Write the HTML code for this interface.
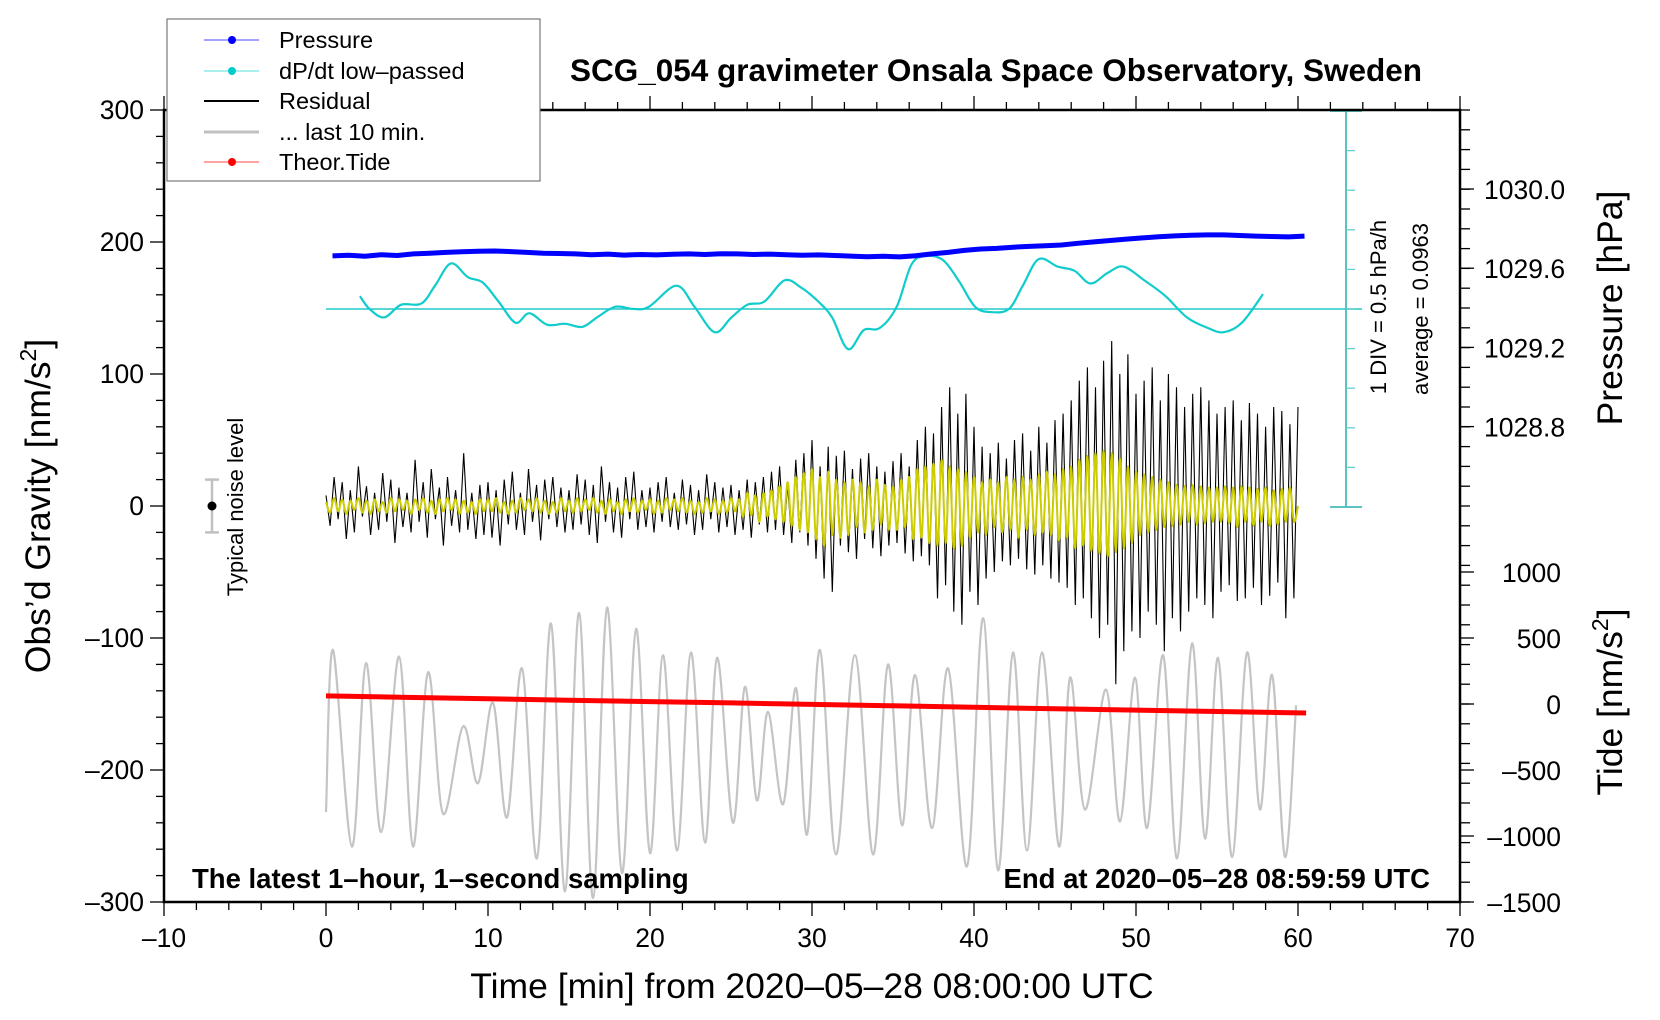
<!DOCTYPE html>
<html><head><meta charset="utf-8"><title>SCG_054 gravimeter</title>
<style>
html,body{margin:0;padding:0;background:#fff;}
svg{display:block;font-family:"Liberation Sans",Arial,sans-serif;}
</style></head>
<body>
<svg id="chart" width="1660" height="1020" viewBox="0 0 1660 1020" xmlns="http://www.w3.org/2000/svg">
<rect x="0" y="0" width="1660" height="1020" fill="#fff"/>
<g id="plot"></g>
<g id="axes"></g>
<text x="996" y="81" text-anchor="middle" font-size="31.5" font-weight="bold">SCG_054 gravimeter Onsala Space Observatory, Sweden</text>
<text x="192" y="888" font-size="27.5" font-weight="bold">The latest 1–hour, 1–second sampling</text>
<text x="1430" y="888" text-anchor="end" font-size="27.5" font-weight="bold">End at 2020–05–28 08:59:59 UTC</text>
<text x="812" y="998" text-anchor="middle" font-size="35.5">Time [min] from 2020–05–28 08:00:00 UTC</text>
<text transform="translate(50,506) rotate(-90)" text-anchor="middle" font-size="35.5">Obs’d Gravity [nm/s<tspan font-size="23" dy="-14">2</tspan><tspan dy="14">]</tspan></text>
<text transform="translate(1622,308) rotate(-90)" text-anchor="middle" font-size="35.5">Pressure [hPa]</text>
<text transform="translate(1622,702) rotate(-90)" text-anchor="middle" font-size="35.5">Tide [nm/s<tspan font-size="23" dy="-14">2</tspan><tspan dy="14">]</tspan></text>
<text transform="translate(243,507) rotate(-90)" text-anchor="middle" font-size="22">Typical noise level</text>
<text transform="translate(1386,307) rotate(-90)" text-anchor="middle" font-size="22">1 DIV = 0.5 hPa/h</text>
<text transform="translate(1428,309) rotate(-90)" text-anchor="middle" font-size="22">average = 0.0963</text>
<g id="legend">
<rect x="167" y="19" width="373" height="162" fill="#fff" stroke="#777" stroke-width="1.2"/>
<g><line x1="204" y1="40" x2="259" y2="40" stroke="#4444ff" stroke-width="1"/><circle cx="232" cy="40" r="4" fill="#0000ff"/><text x="279" y="48" font-size="23.5">Pressure</text></g>
<g><line x1="204" y1="71" x2="259" y2="71" stroke="#55dddd" stroke-width="1"/><circle cx="232" cy="71" r="4" fill="#00cccc"/><text x="279" y="79" font-size="23.5">dP/dt low–passed</text></g>
<g><line x1="204" y1="101" x2="259" y2="101" stroke="#000" stroke-width="2"/><text x="279" y="109" font-size="23.5">Residual</text></g>
<g><line x1="204" y1="132" x2="259" y2="132" stroke="#c0c0c0" stroke-width="3"/><text x="279" y="140" font-size="23.5">... last 10 min.</text></g>
<g><line x1="204" y1="162" x2="259" y2="162" stroke="#ff4444" stroke-width="1"/><circle cx="232" cy="162" r="4" fill="#ff0000"/><text x="279" y="170" font-size="23.5">Theor.Tide</text></g>
</g>
</svg>
<script>
// ---- data ----
const pressureTimes = [0,1,2,3,4,5,6,7,8,9,10,11,12,13,14,15,16,17,18,19,20,21,22,23,24,25,26,27,28,29,30,31,32,33,34,35,36,37,38,39,40,41,42,43,44,45,46,47,48,49,50,51,52,53,54,55,56,57,58,59,60];
const pressureValues = [1029.662,1029.665,1029.660,1029.668,1029.664,1029.672,1029.676,1029.680,1029.683,1029.686,1029.687,1029.684,1029.680,1029.676,1029.674,1029.672,1029.668,1029.671,1029.666,1029.669,1029.667,1029.670,1029.672,1029.669,1029.673,1029.672,1029.669,1029.671,1029.668,1029.665,1029.667,1029.664,1029.661,1029.658,1029.660,1029.657,1029.663,1029.672,1029.680,1029.690,1029.697,1029.700,1029.706,1029.710,1029.713,1029.717,1029.726,1029.733,1029.740,1029.747,1029.753,1029.759,1029.763,1029.766,1029.768,1029.768,1029.765,1029.762,1029.760,1029.758,1029.762];
const dpdtTimes = [2.09,2.68,3.59,4.64,5.88,6.73,7.71,8.76,9.67,10.65,11.70,12.55,13.66,14.77,15.82,16.73,17.84,18.95,19.93,21.63,22.75,23.99,25.03,26.01,27.06,28.30,29.35,30.39,31.24,32.22,33.20,34.18,35.23,36.14,37.06,38.10,39.08,40.07,41.05,42.16,43.01,43.99,45.16,46.21,47.19,48.24,49.22,50.52,51.83,53.14,54.44,55.42,56.54,57.84];
const dpdtValues = [0.258,0.097,-0.010,0.150,0.164,0.390,0.672,0.498,0.431,0.191,-0.077,0.043,-0.103,-0.090,-0.130,-0.010,0.124,0.097,0.124,0.390,0.124,-0.197,-0.010,0.150,0.191,0.457,0.364,0.191,-0.010,-0.410,-0.170,-0.144,0.124,0.658,0.766,0.711,0.445,0.124,0.057,0.097,0.390,0.725,0.632,0.578,0.418,0.551,0.632,0.457,0.258,-0.010,-0.144,-0.197,-0.077,0.284];
const dpdtAverage = 0.0963;
const residualValues = [
8,-15,22,-10,18,-25,12,-20,30,-8,15,-22,10,-18,25,-12,20,-28,14,-16,
10,-20,35,-12,18,-24,28,-10,14,-30,22,-15,12,-20,40,-18,10,-25,16,-22,
18,-24,12,-30,20,-14,26,-18,10,-22,28,-12,16,-26,20,-10,22,-16,14,-20,
12,-18,24,-14,20,-22,16,-28,30,-12,18,-20,14,-24,22,-10,26,-18,12,-16,
14,-20,18,-12,22,-16,10,-18,20,-14,16,-22,12,-18,24,-10,18,-20,14,-16,
16,-22,12,-18,20,-24,18,-14,22,-20,26,-18,30,-22,16,-28,35,-20,40,-30,
50,-40,30,-55,45,-65,38,-30,42,-35,28,-40,36,-25,40,-32,30,-38,26,-30,
34,-28,40,-36,30,-42,50,-38,60,-45,55,-70,75,-60,90,-80,70,-90,85,-65,
60,-75,45,-55,40,-50,48,-42,36,-45,50,-40,55,-48,42,-52,60,-45,48,-55,
65,-58,70,-62,80,-75,95,-70,105,-85,90,-100,110,-90,125,-135,100,-110,115,-95,
85,-100,95,-80,105,-90,80,-110,100,-85,90,-95,75,-80,85,-70,90,-75,80,-85,
70,-65,75,-60,80,-72,65,-70,78,-62,70,-75,60,-68,75,-58,72,-85,62,-70,75];
const filteredValues = [
3,-5,6,-4,5,-6,4,-3,6,-5,4,-6,5,-4,3,-5,6,-4,5,-3,
4,-6,5,-3,6,-5,4,-6,5,-4,6,-3,5,-6,4,-5,3,-6,5,-4,
5,-4,6,-5,3,-6,4,-5,6,-3,5,-4,6,-5,4,-6,3,-5,6,-4,
4,-5,6,-4,5,-3,6,-5,4,-6,5,-4,3,-6,5,-4,6,-5,4,-3,
5,-6,4,-5,6,-3,5,-4,6,-5,4,-6,3,-5,6,-4,5,-6,4,-5,
6,-4,5,-8,10,-7,8,-12,10,-8,12,-10,15,-12,18,-15,22,-18,25,-20,
28,-25,22,-30,26,-22,20,-24,18,-22,20,-16,18,-20,15,-18,20,-14,16,-18,
15,-18,20,-16,22,-25,28,-24,30,-28,32,-30,35,-28,30,-32,28,-30,26,-24,
22,-20,18,-22,20,-16,18,-20,22,-18,20,-24,22,-18,20,-22,24,-20,26,-22,
24,-26,28,-24,30,-32,35,-30,38,-34,40,-36,42,-38,40,-35,36,-32,30,-28,
26,-22,24,-20,22,-18,20,-16,18,-15,16,-14,15,-12,16,-14,15,-13,14,-12,
14,-12,15,-13,14,-16,15,-12,14,-15,13,-12,14,-15,12,-14,13,-12,14,-12,0];
const residualStep = 0.25; // minutes per sample
const last10Times = [0,0.43,1.60,2.47,3.40,4.51,5.37,6.30,7.22,8.46,9.38,10.31,11.17,12.10,13.02,13.89,14.75,15.62,16.48,17.35,18.27,19.14,20.00,20.80,21.67,22.53,23.40,24.14,25.12,25.86,26.60,27.28,28.21,29.01,29.69,30.49,31.48,32.65,33.77,34.69,35.56,36.36,37.41,38.40,39.57,40.56,41.48,42.41,43.27,44.20,45.25,45.93,46.85,48.15,49.01,49.94,50.68,51.67,52.53,53.46,54.26,55.06,55.93,56.85,57.65,58.40,59.20,59.88];
const last10Values = [-232,-109,-258,-119,-247,-114,-258,-126,-233,-167,-210,-149,-236,-123,-267,-89,-292,-81,-297,-77,-278,-93,-263,-113,-261,-111,-255,-115,-240,-137,-223,-156,-226,-138,-249,-109,-264,-113,-264,-120,-242,-128,-244,-123,-273,-85,-276,-111,-261,-111,-258,-130,-230,-139,-239,-130,-244,-113,-267,-104,-252,-115,-266,-111,-230,-128,-266,-151];
const tideTimes = [0,5,10,15,20,25,30,35,40,45,50,55,60.5];
const tideValues = [61,50,40,29,18,8,-3,-14,-25,-36,-46,-57,-68];
const xTicks = [-10,0,10,20,30,40,50,60,70];
const yTicks = [-300,-200,-100,0,100,200,300];
const pTicks = [1028.8,1029.2,1029.6,1030.0];
const tideTicks = [-1500,-1000,-500,0,500,1000];

// ---- scales ----
const L=164,R=1460,T=110,B=902;
const xs = t => 326 + t*16.2;
const ys = v => 506 - v*1.32;
const yp = p => 189 + (1030-p)*198;
const yt = v => 704 - v*0.132;
const yd = d => 309 - (d-dpdtAverage)*79.2;
const NS='http://www.w3.org/2000/svg';
const plot=document.getElementById('plot'), axes=document.getElementById('axes');
function mk(tag,attrs,parent){const e=document.createElementNS(NS,tag);for(const k in attrs)e.setAttribute(k,attrs[k]);parent.appendChild(e);return e;}
function smooth(pts){let d='M'+pts[0][0].toFixed(1)+','+pts[0][1].toFixed(1);
 for(let i=0;i<pts.length-1;i++){const p0=pts[Math.max(0,i-1)],p1=pts[i],p2=pts[i+1],p3=pts[Math.min(pts.length-1,i+2)];
  const c1=[p1[0]+(p2[0]-p0[0])/6,p1[1]+(p2[1]-p0[1])/6],c2=[p2[0]-(p3[0]-p1[0])/6,p2[1]-(p3[1]-p1[1])/6];
  d+='C'+c1[0].toFixed(1)+','+c1[1].toFixed(1)+' '+c2[0].toFixed(1)+','+c2[1].toFixed(1)+' '+p2[0].toFixed(1)+','+p2[1].toFixed(1);}
 return d;}

// gray last 10 min
let g=mk('path',{d:smooth(last10Times.map((t,i)=>[xs(t),ys(last10Values[i])])),fill:'none',stroke:'#c4c4c4','stroke-width':2.2},plot);


// residual
let rp=mk('polyline',{points:residualValues.map((v,i)=>xs(i*residualStep).toFixed(1)+','+ys(v).toFixed(1)).join(' '),fill:'none',stroke:'#000','stroke-width':1.1},plot);


let fp=mk('path',{d:smooth(filteredValues.map((v,i)=>[xs(i*residualStep),ys(v)])),fill:'none',stroke:'#cccc00','stroke-width':2},plot);


// tide
let tp=mk('polyline',{points:tideTimes.map((t,i)=>xs(t).toFixed(1)+','+yt(tideValues[i]).toFixed(1)).join(' '),fill:'none',stroke:'#ff0000','stroke-width':5},plot);


// dP/dt scale bar
let avg=mk('line',{x1:xs(0),x2:1362,y1:yd(dpdtAverage),y2:yd(dpdtAverage),stroke:'#22c8c8','stroke-width':1.5},plot);


let bar=mk('g',{},plot);


mk('line',{x1:1346,x2:1346,y1:111,y2:507,stroke:'#44bbbb','stroke-width':1.8},bar);
mk('line',{x1:1330,x2:1362,y1:111,y2:111,stroke:'#44bbbb','stroke-width':1.8},bar);
mk('line',{x1:1330,x2:1362,y1:507,y2:507,stroke:'#44bbbb','stroke-width':1.8},bar);
for(let k=1;k<10;k++){mk('line',{x1:1346,x2:1355,y1:111+k*39.6,y2:111+k*39.6,stroke:'#66cccc','stroke-width':1.3},bar);}
// dP/dt curve
let dp=mk('path',{d:smooth(dpdtTimes.map((t,i)=>[xs(t),yd(dpdtValues[i])])),fill:'none',stroke:'#11cccc','stroke-width':2.2},plot);


// pressure
let pp=mk('polyline',{points:pressureTimes.map((t,i)=>xs(t+0.4).toFixed(1)+','+yp(pressureValues[i]).toFixed(1)).join(' '),fill:'none',stroke:'#0000ff','stroke-width':5,'stroke-linejoin':'round'},plot);


// noise level marker
let nz=mk('g',{},plot);


mk('line',{x1:212,x2:212,y1:ys(20),y2:ys(-20),stroke:'#c0c0c0','stroke-width':2.5},nz);
mk('line',{x1:205,x2:219,y1:ys(20),y2:ys(20),stroke:'#c0c0c0','stroke-width':2.5},nz);
mk('line',{x1:205,x2:219,y1:ys(-20),y2:ys(-20),stroke:'#c0c0c0','stroke-width':2.5},nz);
mk('circle',{cx:212,cy:ys(0),r:4.5,fill:'#000'},nz);

// ---- axes ----
let frame=mk('rect',{x:L,y:T,width:R-L,height:B-T,fill:'none',stroke:'#000','stroke-width':2.5},axes);


for(let t=-10;t<=70;t+=2){const maj=(t%10===0);
 mk('line',{x1:xs(t),x2:xs(t),y1:B,y2:B+(maj?14:8),stroke:'#000','stroke-width':1.3},axes);
 mk('line',{x1:xs(t),x2:xs(t),y1:T,y2:T-(maj?14:8),stroke:'#000','stroke-width':1.3},axes);}
xTicks.forEach(t=>{const e=mk('text',{x:xs(t),y:B+45,'text-anchor':'middle','font-size':26.5},axes);e.textContent=(t<0?'–'+(-t):''+t);
 
 });
for(let v=-300;v<=300;v+=20){const maj=(v%100===0);
 mk('line',{x1:L,x2:L-(maj?14:8),y1:ys(v),y2:ys(v),stroke:'#000','stroke-width':1.3},axes);}
yTicks.forEach(v=>{const e=mk('text',{x:L-20,y:ys(v)+9,'text-anchor':'end','font-size':26.5},axes);e.textContent=(v<0?'–'+(-v):''+v);
 
 });
for(let k=0;k<=40;k++){const y=T+k*19.8; if(y>B)break; mk('line',{x1:R,x2:R+10,y1:y,y2:y,stroke:'#000','stroke-width':1.3},axes);}
pTicks.forEach(p=>{mk('line',{x1:R,x2:R+14,y1:yp(p),y2:yp(p),stroke:'#000','stroke-width':1.3},axes);
 const e=mk('text',{x:1484,y:yp(p)+10,'font-size':26.5},axes);e.textContent=p.toFixed(1);
 
 });
tideTicks.forEach(v=>{mk('line',{x1:R,x2:R+14,y1:yt(v),y2:yt(v),stroke:'#000','stroke-width':1.3},axes);
 const e=mk('text',{x:1561,y:yt(v)+10,'text-anchor':'end','font-size':26.5},axes);e.textContent=(v<0?'–'+(-v):''+v);
 
 });
</script>
</body></html>
